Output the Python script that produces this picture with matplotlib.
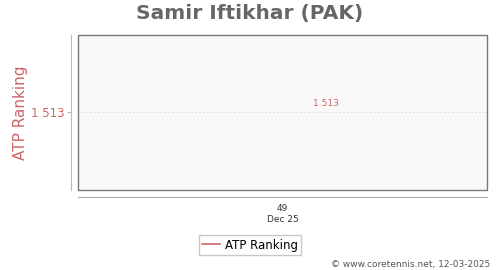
import matplotlib
matplotlib.use("Agg")
import matplotlib.pyplot as plt
from matplotlib.patches import Rectangle

weeks = [49]
ranking = [1513]
week_labels = ["49"]
month_label = "Dec 25"
title = "Samir Iftikhar (PAK)"
series_name = "ATP Ranking"
red = "#cc6666"

fig = plt.figure(figsize=(5, 2.7), dpi=100)
ax = fig.add_axes([0.156, 0.2963, 0.818, 0.5741])
ax.set_facecolor("#f9f9f9")

ax.spines["top"].set_visible(False)
ax.spines["right"].set_visible(False)
ax.spines["left"].set_position(("outward", 5))
ax.spines["left"].set_color("#ddaaaa")
ax.spines["bottom"].set_position(("outward", 5))
ax.spines["bottom"].set_color("#aaaaaa")

line, = ax.plot(weeks, ranking, color=red, lw=1.2, label=series_name)
for w, r in zip(weeks, ranking):
    ax.annotate(f"{r:,}".replace(",", " "), (w, r), xytext=(31, 3), textcoords="offset points",
                ha="center", va="bottom", color=red, fontsize=6.5)

ax.set_xlim(weeks[0] - 1, weeks[0] + 1)
ax.set_ylim(ranking[0] - 1, ranking[0] + 1)
ax.set_xticks(weeks)
ax.set_xticklabels(week_labels, fontsize=6.5, color="#333333")
ax.set_yticks(ranking)
ax.set_yticklabels([f"{r:,}".replace(",", " ") for r in ranking], fontsize=8.5, color=red)
ax.yaxis.grid(True, color="#dddddd", ls=(0, (2, 2)), lw=0.7)
ax.tick_params(axis="x", length=0, pad=5)
ax.tick_params(axis="y", length=3, color="#ddaaaa", pad=2)

ax.add_patch(Rectangle((0, 0), 1, 1, transform=ax.transAxes, fill=False,
                       edgecolor="#777777", lw=1.0, clip_on=False, zorder=5))

ax.set_ylabel(series_name, color=red, fontsize=11, labelpad=2)
fig.text(0.566, 1 - 220 / 270, month_label, ha="center", va="center", fontsize=6.5, color="#333333")
fig.suptitle(title, x=0.5, y=0.985, fontsize=14.5, fontweight="bold", color="#666666", va="top")

leg = fig.legend(handles=[line], loc="center", bbox_to_anchor=(0.5, 1 - 245 / 270), fontsize=8.5,
                 frameon=True, fancybox=False, edgecolor="#bbbbbb", handlelength=1.5,
                 borderpad=0.3, handletextpad=0.4)
fig.text(0.98, 1 - 264 / 270, "© www.coretennis.net, 12-03-2025", ha="right", va="center",
         fontsize=6.5, color="#555555")

fig.savefig("out.png", dpi=100)
